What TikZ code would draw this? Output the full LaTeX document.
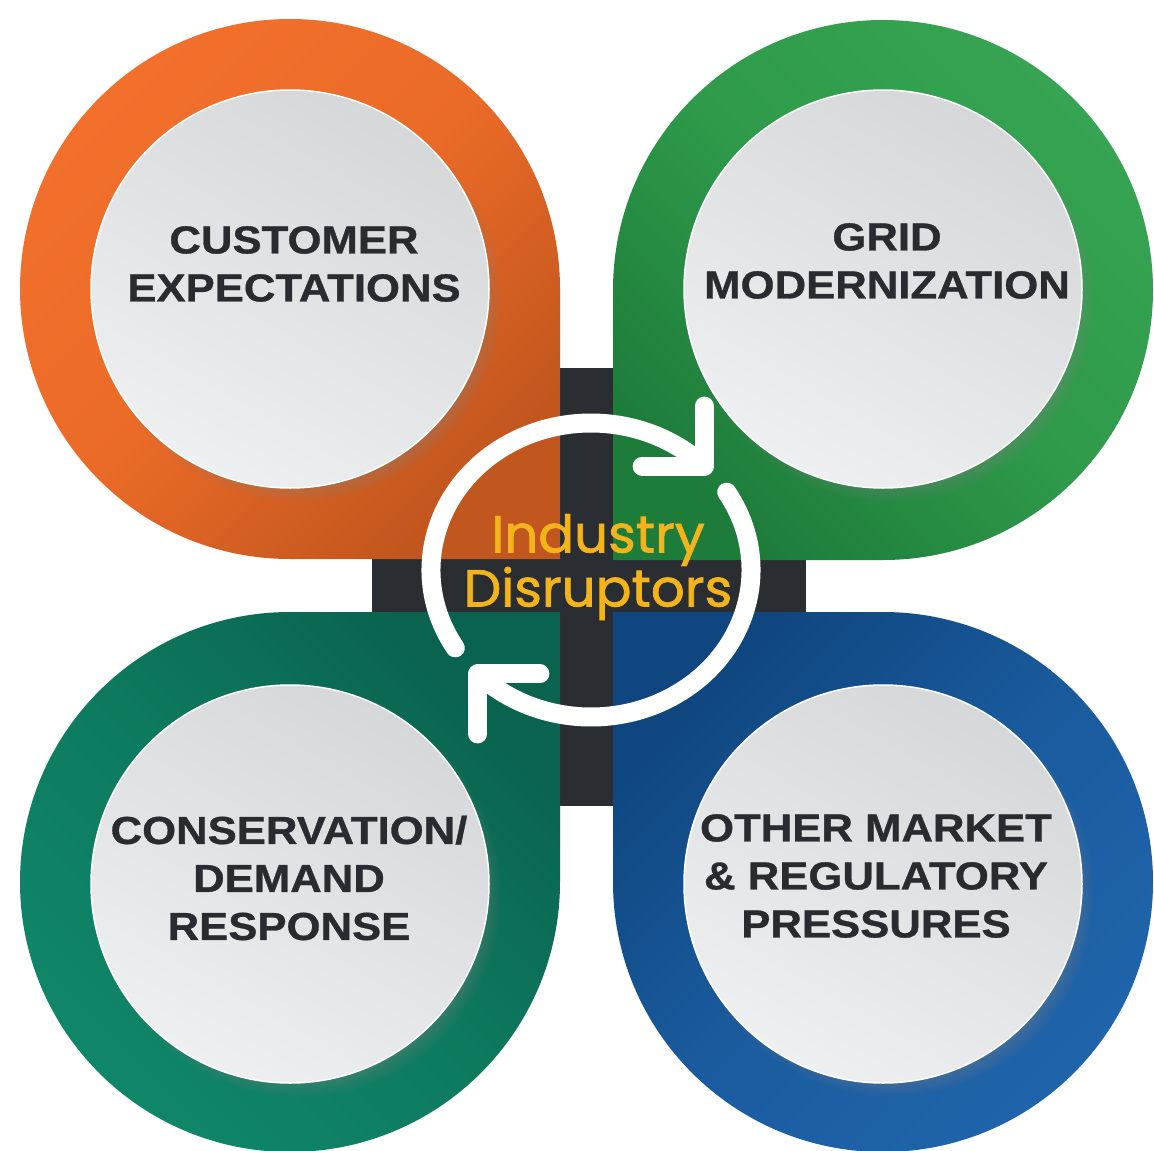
\documentclass[tikz,border=0pt]{standalone}
\usepackage{fontspec}
\setmainfont{Liberation Sans}
\newfontfamily\lblfont{Liberation Sans}[FakeStretch=1.12,FakeBold=0.8]
\newfontfamily\disfont{Poppins}[FakeBold=1.4,FakeStretch=1.02]
\usetikzlibrary{shadows,calc}
\definecolor{orL}{HTML}{F2702C}
\definecolor{orM}{HTML}{EA6A27}
\definecolor{orD}{HTML}{C1561E}
\definecolor{grL}{HTML}{36A452}
\definecolor{grM}{HTML}{2E9A4A}
\definecolor{grD}{HTML}{1E7C3B}
\definecolor{teL}{HTML}{108668}
\definecolor{teM}{HTML}{0D7A5E}
\definecolor{teD}{HTML}{0A634E}
\definecolor{blL}{HTML}{1F64AB}
\definecolor{blM}{HTML}{1A5B9E}
\definecolor{blD}{HTML}{0F467F}
\definecolor{crossc}{HTML}{2A2D32}
\definecolor{gryA}{HTML}{D6D7D9}
\definecolor{gryB}{HTML}{EEEFF0}
\definecolor{txt}{HTML}{2A2B30}
\definecolor{yel}{HTML}{F3B31B}
\begin{document}
\begin{tikzpicture}[x=1pt,y=1pt,
  disc/.style={circle, minimum size=398pt, inner sep=0pt, draw=white, line width=1.5pt,
    top color=gryA, bottom color=gryB, shading angle=-30,
    circular drop shadow={shadow xshift=8pt, shadow yshift=-10pt, opacity=.6, shadow scale=1.02}},
  lbl/.style={align=center, text=txt, inner sep=0pt,
    font=\lblfont\bfseries\fontsize{39}{48}\selectfont},
  ring/.style={draw=white, line width=19pt, line cap=round, line join=round}]
\useasboundingbox (0,0) rectangle (1154,-1151);
\fill[white] (0,0) rectangle (1154,-1151);
% central cross
\fill[crossc] (560,-368) rectangle (613,-806);
\fill[crossc] (372,-559) rectangle (806,-612);
% teardrops
\shade[top color=orL, bottom color=orD, middle color=orM, shading angle=45]
  (560,-289) -- (560,-559) -- (290,-559) arc[start angle=270, end angle=0, radius=270] -- cycle;
\shade[top color=grL, bottom color=grD, middle color=grM, shading angle=-45]
  (613,-290) -- (613,-560) -- (883,-560) arc[start angle=-90, end angle=180, radius=270] -- cycle;
\shade[top color=teD, bottom color=teL, middle color=teM, shading angle=-45]
  (290,-612) -- (560,-612) -- (560,-882) arc[start angle=0, end angle=-270, radius=270] -- cycle;
\shade[top color=blD, bottom color=blL, middle color=blM, shading angle=45]
  (613,-882) -- (613,-612) -- (883,-612) arc[start angle=90, end angle=-180, radius=270] -- cycle;
% grey discs
\node[disc] (d1) at (290,-289) {};
\node[disc] (d2) at (883,-289) {};
\node[disc] (d3) at (290,-884) {};
\node[disc] (d4) at (883,-884) {};
% labels
\node[lbl] (t1) at (294,-264) {CUSTOMER\\EXPECTATIONS};
\node[lbl] (t2) at (887,-261) {GRID\\MODERNIZATION};
\node[lbl] (t3) at (289,-878) {CONSERVATION/\\DEMAND\\RESPONSE};
\node[lbl] (t4) at (876,-876) {OTHER MARKET\\\& REGULATORY\\PRESSURES};
% circular arrows
\coordinate (rc) at (591,-570);
\draw[ring] (rc) ++(212:160 and 147) arc[start angle=212, end angle=45, x radius=160, y radius=147] coordinate (h1);
\draw[ring] ($(h1)+(-62,0)$) -- (h1) -- ($(h1)+(0,60)$);
\draw[ring] (rc) ++(32:160 and 147) arc[start angle=32, end angle=-135, x radius=160, y radius=147] coordinate (h2);
\draw[ring] ($(h2)+(62,0)$) -- (h2) -- ($(h2)+(0,-60)$);
% centre text
\node[align=center, inner sep=0pt, text=yel, font=\disfont\fontsize{52}{54}\selectfont] (ctr) at (598,-567) {Industry\\Disruptors};
\end{tikzpicture}
\end{document}
